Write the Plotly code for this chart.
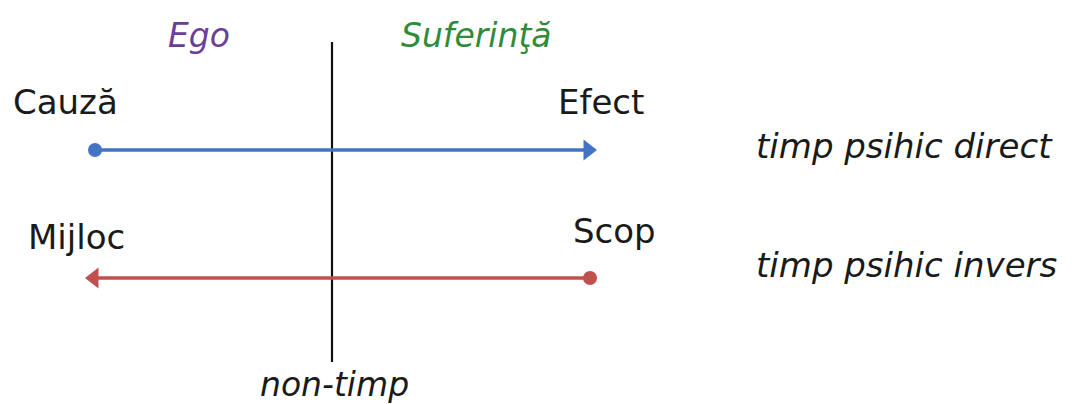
import plotly.graph_objects as go

# ---- data (pixel-space diagram coordinates) ----
divider_x = [332, 332]
divider_y = [42, 362]

direct_x = [95, 588]
direct_y = [150, 150]

invers_x = [590, 94]
invers_y = [278, 278]

node_labels = ["Cauză", "Efect", "Mijloc", "Scop"]
node_x = [11, 556, 26, 571]
node_y = [102, 102, 237, 231]

header_labels = ["Ego", "Suferinţă"]
header_x = [199, 476]
header_y = [35, 35]
header_colors = ["#6B3E97", "#2E8B3A"]

side_labels = ["timp psihic direct", "timp psihic invers"]
side_x = [754, 754]
side_y = [146, 265]

bottom_label = "non-timp"
bottom_x = 334
bottom_y = 384

BLUE = "#4472C4"
RED = "#C0504D"

# the page body adds an 8px offset; shift axis ranges so data = screen px
OFF = 8

fig = go.Figure()

fig.add_trace(go.Scatter(x=divider_x, y=divider_y, mode="lines",
                         line=dict(color="#111111", width=2.2),
                         hoverinfo="skip", showlegend=False))

fig.add_trace(go.Scatter(x=direct_x, y=direct_y, mode="lines+markers",
                         line=dict(color=BLUE, width=3.5),
                         marker=dict(symbol=["circle", "triangle-right"],
                                     size=[14, 18], color=BLUE, opacity=1,
                                     line=dict(width=0)),
                         hoverinfo="skip", showlegend=False))

fig.add_trace(go.Scatter(x=invers_x, y=invers_y, mode="lines+markers",
                         line=dict(color=RED, width=3.5),
                         marker=dict(symbol=["circle", "triangle-left"],
                                     size=[14, 18], color=RED, opacity=1,
                                     line=dict(width=0)),
                         hoverinfo="skip", showlegend=False))

annotations = []
for t, x, y in zip(node_labels, node_x, node_y):
    annotations.append(dict(x=x, y=y, text=t, xref="x", yref="y",
                            xanchor="left", yanchor="middle", showarrow=False,
                            font=dict(family="DejaVu Sans", size=34, color="#1a1a1a")))
for t, x, y, c in zip(header_labels, header_x, header_y, header_colors):
    annotations.append(dict(x=x, y=y, text=t, xref="x", yref="y",
                            xanchor="center", yanchor="middle", showarrow=False,
                            font=dict(family="DejaVu Sans", size=33, color=c,
                                      style="italic")))
for t, x, y in zip(side_labels, side_x, side_y):
    annotations.append(dict(x=x, y=y, text=t, xref="x", yref="y",
                            xanchor="left", yanchor="middle", showarrow=False,
                            font=dict(family="DejaVu Sans", size=34, color="#1a1a1a",
                                      style="italic")))
annotations.append(dict(x=bottom_x, y=bottom_y, text=bottom_label, xref="x", yref="y",
                        xanchor="center", yanchor="middle", showarrow=False,
                        font=dict(family="DejaVu Sans", size=33, color="#1a1a1a",
                                  style="italic")))

fig.update_layout(
    width=1072, height=404,
    margin=dict(l=0, r=0, t=0, b=0),
    paper_bgcolor="white", plot_bgcolor="white",
    xaxis=dict(range=[OFF, 1072 + OFF], visible=False, fixedrange=True),
    yaxis=dict(range=[404 + OFF, OFF], visible=False, fixedrange=True),
    annotations=annotations,
    showlegend=False,
)

fig.write_html("out.html")
